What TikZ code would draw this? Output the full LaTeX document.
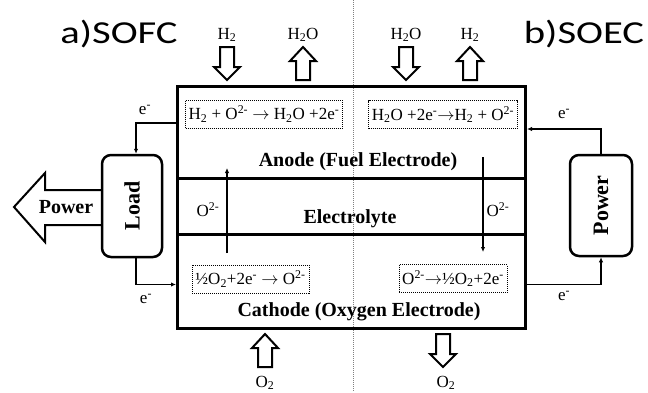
\documentclass[tikz,border=0pt]{standalone}
\usepackage{fontspec}
\setmainfont{Liberation Serif}
\newfontfamily\titlefont{Carlito}
\usetikzlibrary{arrows.meta}
\newcommand\rarr{\ensuremath{\rightarrow}}
\begin{document}
\begin{tikzpicture}[x=1pt,y=-1pt,
 wire/.style={line width=1.5pt},
 tip/.style={-{Latex[length=5pt,width=4.5pt]}},
 blk/.style={line width=2pt, fill=white, line join=miter},
 rxn/.style={draw, densely dotted, line width=1pt, minimum height=28pt, inner xsep=3pt, font=\fontsize{17}{19}\selectfont},
 lbl/.style={font=\fontsize{17}{19}\selectfont, inner sep=0pt},
 boldlbl/.style={font=\fontsize{20}{22}\selectfont\bfseries, inner sep=0pt},
 dev/.style={draw, line width=2.5pt, rounded corners=9pt, font=\fontsize{22}{24}\selectfont\bfseries, inner sep=0pt},
 title/.style={font=\titlefont\fontsize{32}{36}\selectfont, inner sep=0pt, anchor=base},
 downblk/.pic={\draw[blk] (-7,0) -- (7,0) -- (7,20) -- (13,20) -- (0,33) -- (-13,20) -- (-7,20) -- cycle;},
 upblk/.pic={\draw[blk] (0,0) -- (13,14) -- (7,14) -- (7,33) -- (-7,33) -- (-7,14) -- (-13,14) -- cycle;},
]
\useasboundingbox (0,0) rectangle (648,392);
% centre divider
\coordinate (dt) at (353,0);
\coordinate (db) at (353,392);
\draw[gray, densely dotted, line width=1pt] (dt) -- (db);

% titles
\node[title] (ta) at (119,43) {\scalebox{1.27}[1]{a)SOFC}};
\node[title] (tb) at (584,43) {\scalebox{1.27}[1]{b)SOEC}};

% cell
\node[draw, line width=3pt, minimum width=348pt, minimum height=241.5pt, inner sep=0pt] (cell) at (351.5,207.5) {};
\coordinate (s1) at (0,178.5);
\coordinate (s2) at (0,234.5);
\draw[line width=3pt] (cell.west |- s1) -- (cell.east |- s1);
\draw[line width=3pt] (cell.west |- s2) -- (cell.east |- s2);

% gas block arrows
\pic at (227,47) {downblk};
\pic at (303,47) {upblk};
\pic at (406,47) {downblk};
\pic at (470,47) {upblk};
\pic at (265,334) {upblk};
\pic at (443,334) {downblk};

\node[lbl, anchor=base] (g1) at (227,39) {H\textsubscript{2}};
\node[lbl, anchor=base] (g2) at (303,39) {H\textsubscript{2}O};
\node[lbl, anchor=base] (g3) at (406,39) {H\textsubscript{2}O};
\node[lbl, anchor=base] (g4) at (470,39) {H\textsubscript{2}};
\node[lbl, anchor=base] (g5) at (265,387) {O\textsubscript{2}};
\node[lbl, anchor=base] (g6) at (446,387) {O\textsubscript{2}};

% reactions
\node[rxn, minimum width=154pt] (r1) at (264,114) {H\textsubscript{2} + O\textsuperscript{2-} \rarr{} H\textsubscript{2}O +2e\textsuperscript{-}};
\node[rxn, minimum width=148pt] (r2) at (443,114.5) {H\textsubscript{2}O +2e\textsuperscript{-}\rarr{}H\textsubscript{2} + O\textsuperscript{2-}};
\node[rxn, minimum width=117pt] (r3) at (250.5,279) {½O\textsubscript{2}+2e\textsuperscript{-} \rarr{} O\textsuperscript{2-}};
\node[rxn, minimum width=108pt] (r4) at (453,278.5) {O\textsuperscript{2-}\rarr{}½O\textsubscript{2}+2e\textsuperscript{-}};

% layer names
\node[boldlbl] (an) at (358,162) {Anode (Fuel Electrode)};
\node[boldlbl] (el) at (350,219) {Electrolyte};
\node[boldlbl] (ca) at (359,312) {Cathode (Oxygen Electrode)};

% oxide ion transport
\coordinate (oa1) at (227,253);
\coordinate (oa2) at (227,168);
\coordinate (ob1) at (483,157);
\coordinate (ob2) at (483,252);
\draw[wire,tip] (oa1) -- (oa2);
\draw[wire,tip] (ob1) -- (ob2);
\node[lbl] (ol) at (208,210) {O\textsuperscript{2-}};
\node[lbl] (or) at (498,210) {O\textsuperscript{2-}};

% power output arrow
\coordinate (p1) at (0,190);
\coordinate (p2) at (0,225);
\coordinate (load w) at (102,0);
\draw[blk] (load w |- p1) -- (45,190) -- (45,173) -- (14,207) -- (45,242) -- (45,225) -- (load w |- p2);
\node[boldlbl] (pw) at (66,207.5) {Power};

% load and power supply
\node[dev, fill=white, minimum width=60pt, minimum height=102pt] (load) at (132,206) {\rotatebox{90}{Load}};
\node[dev, fill=white, minimum width=62pt, minimum height=101pt] (pwr) at (601,205.5) {\rotatebox{90}{Power}};

% electron wires
\coordinate (wa) at (0,123);
\coordinate (wb) at (0,284.5);
\coordinate (wc) at (0,129);
\draw[wire,tip] (cell.west |- wa) -| ([xshift=4pt]load.north);
\draw[wire,tip] ([xshift=4pt]load.south) |- (cell.west |- wb);
\draw[wire,tip] (pwr.north) |- (cell.east |- wc);
\draw[wire,tip] (cell.east |- wb) -| (pwr.south);

\node[lbl] (e1) at (145,110) {e\textsuperscript{-}};
\node[lbl] (e2) at (146,299) {e\textsuperscript{-}};
\node[lbl] (e3) at (564,114) {e\textsuperscript{-}};
\node[lbl] (e4) at (564,296) {e\textsuperscript{-}};
\end{tikzpicture}
\end{document}
